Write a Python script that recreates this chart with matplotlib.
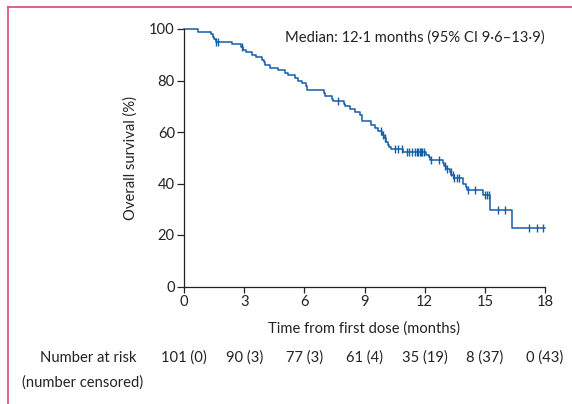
import numpy as np
import matplotlib
matplotlib.use("Agg")
import matplotlib.pyplot as plt
from matplotlib.lines import Line2D
import matplotlib.transforms as mtransforms

plt.rcParams['font.family'] = ['Lato', 'DejaVu Sans']

# ---- data ----
step_times = [0, 0.7, 1.35, 1.45, 1.52, 1.58, 2.38, 2.85, 2.95, 3.1, 3.37, 3.6, 3.87,
              4.0, 4.05, 4.29, 4.7, 5.03, 5.2, 5.53, 5.7, 5.9, 6.08, 6.15, 6.98, 7.05,
              7.36, 7.43, 8.0, 8.05, 8.28, 8.53, 8.77, 8.86, 8.9, 9.32, 9.52, 9.69,
              9.85, 9.95, 10.05, 10.15, 10.22, 10.3, 10.9, 12.09, 12.2, 12.26, 12.93,
              12.98, 13.06, 13.26, 13.33, 13.45, 13.93, 14.04, 14.09, 14.93, 15.25, 16.33]
survival = [100, 99.0, 98.0, 97.0, 96.0, 95.0, 94.0, 93.0, 92.0, 91.0, 90.0, 89.0, 88.0,
            87.0, 86.0, 85.0, 84.0, 83.0, 82.0, 81.0, 80.0, 79.0, 77.7, 76.4, 75.1, 74.1,
            73.0, 72.0, 71.0, 70.2, 69.1, 67.8, 66.5, 65.3, 64.1, 62.8, 61.5, 60.2,
            58.9, 57.6, 56.3, 55.0, 54.2, 53.3, 52.3, 51.2, 50.2, 49.3, 47.9,
            46.8, 45.6, 44.4, 43.2, 42.0, 40.0, 38.7, 37.4, 35.4, 29.6, 22.7]
end_time = 18
censor_times = [1.62, 1.72, 2.9, 7.7, 9.82, 9.9, 10.02, 10.52, 10.68, 10.88, 11.1, 11.23,
                11.37, 11.52, 11.6, 11.68, 11.75, 11.84, 11.89, 11.97, 12.31, 12.71,
                13.02, 13.09, 13.31, 13.39, 13.47, 13.59, 13.72, 14.17, 14.5, 15.0,
                15.09, 15.2, 15.67, 16.0, 17.2, 17.6, 17.9]
x_ticks = [0, 3, 6, 9, 12, 15, 18]
y_ticks = [0, 20, 40, 60, 80, 100]
at_risk = [101, 90, 77, 61, 35, 8, 0]
censored = [0, 3, 3, 4, 19, 37, 43]
median_text = "Median: 12\u00b71 months (95% CI 9\u00b76\u201313\u00b79)"

W, H = 572, 404
FS = 10.6
TXT = '#222222'
fig = plt.figure(figsize=(W / 100, H / 100), dpi=100)
ax = fig.add_axes([184 / W, 1 - 286.5 / H, (545 - 184) / W, (286.5 - 29) / H])

blue = '#125da9'
t_plot = list(step_times) + [end_time]
s_plot = list(survival) + [survival[-1]]
ax.step(t_plot, s_plot, where='post', color=blue, lw=1.1, clip_on=False)

st = np.array(step_times)
sv = np.array(survival)
cy = sv[np.searchsorted(st, censor_times, side='right') - 1]
ax.plot(censor_times, cy, ls='none', marker='|', ms=6, mew=1.0, color=blue, clip_on=False)

ax.set_xlim(0, 18)
ax.set_ylim(0, 100)
ax.set_xticks(x_ticks)
ax.set_yticks(y_ticks)
for s in ['top', 'right']:
    ax.spines[s].set_visible(False)
for s in ['left', 'bottom']:
    ax.spines[s].set_color(TXT)
    ax.spines[s].set_linewidth(0.9)
ax.tick_params(axis='y', length=5, width=0.9, pad=1.5, labelsize=FS, color=TXT, labelcolor=TXT)
ax.tick_params(axis='x', length=4, width=0.9, pad=2, labelsize=FS, color=TXT, labelcolor=TXT)

ax.set_xlabel("Time from first dose (months)", fontsize=FS, color=TXT, labelpad=9)
ax.set_ylabel("Overall survival (%)", fontsize=FS, color=TXT, labelpad=8)

fig.text(545 / W, 1 - 38 / H, median_text, ha='right', va='center', fontsize=FS, color=TXT)

# number at risk row
trans = mtransforms.blended_transform_factory(ax.transData, fig.transFigure)
for t, n, c in zip(x_ticks, at_risk, censored):
    fig.text(t, 1 - 358 / H, f"{n} ({c})", transform=trans, ha='center', va='center',
             fontsize=FS, color=TXT)
fig.text(137 / W, 1 - 358 / H, "Number at risk", ha='right', va='center', fontsize=FS, color=TXT)
fig.text(22 / W, 1 - 383 / H, "(number censored)", ha='left', va='center', fontsize=FS, color=TXT)

# pink frame lines
pink = '#d9577f'
fig.add_artist(Line2D([8 / W, 1.0], [1 - 6.5 / H, 1 - 6.5 / H], color=pink, lw=1.3, transform=fig.transFigure))
fig.add_artist(Line2D([8 / W, 8 / W], [1 - 6.5 / H, 0], color=pink, lw=1.3, transform=fig.transFigure))

fig.savefig("out.png", dpi=100)
